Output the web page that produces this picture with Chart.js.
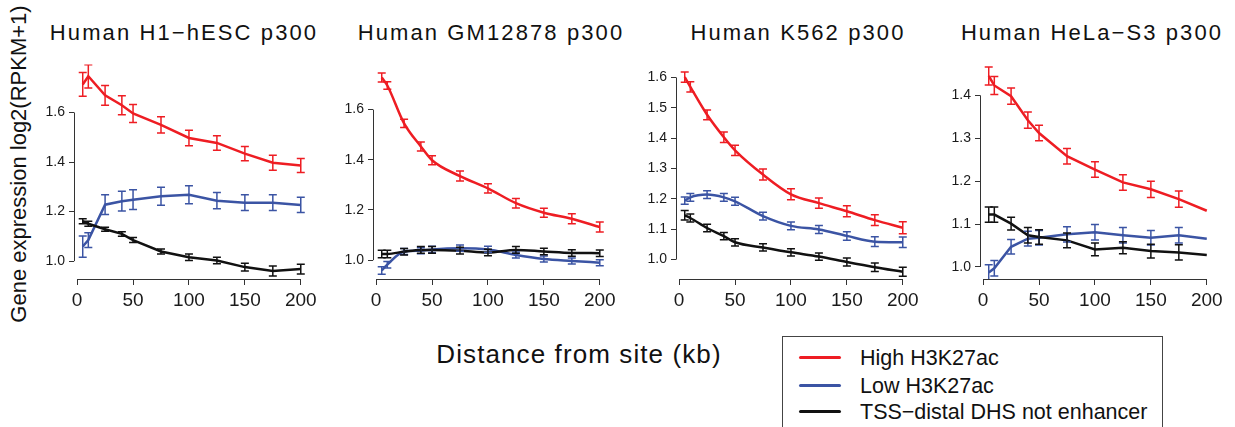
<!DOCTYPE html>
<html>
<head>
<meta charset="utf-8">
<script src="https://cdn.jsdelivr.net/npm/chart.js@4.4.1/dist/chart.umd.min.js"></script>
<style>
    body {
        margin: 0;
        width: 1235px;
        height: 427px;
        position: relative;
        overflow: hidden;
        background: #fff;
        font-family: "Liberation Sans", Arial, sans-serif;
        color: #111;
    }
    .panel {
        position: absolute;
        top: 52px;
    }
    .title {
        position: absolute;
        top: 22px;
        width: 320px;
        text-align: center;
        font-size: 22px;
        line-height: 22px;
        letter-spacing: 2.1px;
        white-space: nowrap;
    }
    .ylabel {
        position: absolute;
        left: 19px;
        top: 164px;
        width: 400px;
        height: 22px;
        line-height: 22px;
        font-size: 22px;
        text-align: center;
        white-space: nowrap;
        transform: translate(-50%, -50%) rotate(-90deg);
    }
    .xlabel {
        position: absolute;
        left: 379px;
        top: 341px;
        width: 400px;
        text-align: center;
        font-size: 26px;
        line-height: 26px;
        letter-spacing: 1.1px;
        white-space: nowrap;
    }
    .legend {
        position: absolute;
        left: 782px;
        top: 336px;
        width: 379px;
        height: 120px;
        border: 1px solid #444;
    }
    .legend__row {
        position: absolute;
        left: 0;
        height: 22px;
        width: 100%;
    }
    .legend__line {
        position: absolute;
        left: 16px;
        top: 8px;
        width: 42px;
        height: 3px;
        border-radius: 2px;
    }
    .legend__text {
        position: absolute;
        left: 77px;
        top: 0;
        font-size: 21.5px;
        line-height: 21.5px;
        white-space: nowrap;
    }
</style>
</head>
<body>

<div class="title" style="left: 24px;">Human H1−hESC p300</div>
<div class="title" style="left: 331px;">Human GM12878 p300</div>
<div class="title" style="left: 638px;">Human K562 p300</div>
<div class="title" style="left: 932px;">Human HeLa−S3 p300</div>

<div class="ylabel">Gene expression log2(RPKM+1)</div>

<div class="panel" style="left: 14px;"><canvas id="h1" width="307" height="267"></canvas></div>
<div class="panel" style="left: 313px;"><canvas id="gm" width="307" height="267"></canvas></div>
<div class="panel" style="left: 616px;"><canvas id="k562" width="307" height="267"></canvas></div>
<div class="panel" style="left: 920px;"><canvas id="hela" width="307" height="267"></canvas></div>

<div class="xlabel">Distance from site (kb)</div>

<div class="legend">
    <div class="legend__row" style="top: 11px;"><div class="legend__line" style="background: #ee1d23;"></div><div class="legend__text">High H3K27ac</div></div>
    <div class="legend__row" style="top: 39px;"><div class="legend__line" style="background: #3b54a4;"></div><div class="legend__text">Low H3K27ac</div></div>
    <div class="legend__row" style="top: 65px;"><div class="legend__line" style="background: #111;"></div><div class="legend__text">TSS−distal DHS not enhancer</div></div>
</div>

<script>
// Distances (kb) and axis ticks

var distances = [5, 10, 25, 40, 50, 75, 100, 125, 150, 175, 200];
var xTicks = [0, 50, 100, 150, 200];

// H1-hESC
var h1High = [1.713, 1.746, 1.669, 1.629, 1.596, 1.550, 1.497, 1.477, 1.434, 1.397, 1.386];
var h1HighErr = [0.048, 0.047, 0.040, 0.038, 0.036, 0.033, 0.031, 0.029, 0.029, 0.030, 0.028];
var h1Low = [1.059, 1.085, 1.228, 1.242, 1.248, 1.262, 1.268, 1.244, 1.236, 1.236, 1.227];
var h1LowErr = [0.043, 0.030, 0.040, 0.040, 0.040, 0.036, 0.036, 0.033, 0.032, 0.032, 0.031];
var h1Dhs = [1.161, 1.151, 1.129, 1.110, 1.085, 1.039, 1.016, 1.003, 0.976, 0.960, 0.968];
var h1DhsErr = [0.010, 0.010, 0.008, 0.009, 0.010, 0.010, 0.013, 0.013, 0.016, 0.020, 0.020];
var h1Ticks = [1.0, 1.2, 1.4, 1.6];

// GM12878
var gmHigh = [1.728, 1.696, 1.545, 1.453, 1.398, 1.335, 1.286, 1.227, 1.189, 1.165, 1.132];
var gmHighErr = [0.018, 0.015, 0.016, 0.018, 0.018, 0.020, 0.018, 0.019, 0.018, 0.020, 0.020];
var gmLow = [0.959, 0.982, 1.035, 1.038, 1.043, 1.048, 1.043, 1.021, 1.005, 0.997, 0.990];
var gmLowErr = [0.015, 0.013, 0.012, 0.012, 0.012, 0.012, 0.012, 0.012, 0.012, 0.012, 0.012];
var gmDhs = [1.025, 1.025, 1.034, 1.041, 1.041, 1.038, 1.031, 1.041, 1.035, 1.029, 1.028];
var gmDhsErr = [0.015, 0.015, 0.013, 0.013, 0.013, 0.013, 0.013, 0.013, 0.013, 0.013, 0.013];
var gmTicks = [1.0, 1.2, 1.4, 1.6];

// K562
var k562High = [1.601, 1.569, 1.477, 1.403, 1.360, 1.280, 1.215, 1.186, 1.159, 1.130, 1.105];
var k562HighErr = [0.017, 0.017, 0.016, 0.017, 0.017, 0.018, 0.018, 0.017, 0.018, 0.018, 0.020];
var k562Low = [1.194, 1.205, 1.214, 1.205, 1.192, 1.143, 1.111, 1.099, 1.078, 1.059, 1.057];
var k562LowErr = [0.012, 0.013, 0.013, 0.013, 0.013, 0.013, 0.013, 0.013, 0.014, 0.016, 0.017];
var k562Dhs = [1.146, 1.137, 1.104, 1.077, 1.057, 1.040, 1.024, 1.010, 0.992, 0.975, 0.960];
var k562DhsErr = [0.016, 0.013, 0.012, 0.012, 0.012, 0.012, 0.012, 0.012, 0.013, 0.014, 0.015];
var k562Ticks = [1.0, 1.1, 1.2, 1.3, 1.4, 1.5, 1.6];

// HeLa-S3
var helaHigh = [1.445, 1.423, 1.398, 1.342, 1.312, 1.258, 1.227, 1.197, 1.181, 1.158, 1.131];
var helaHighErr = [0.021, 0.021, 0.019, 0.019, 0.018, 0.018, 0.018, 0.018, 0.019, 0.019, null];
var helaLow = [0.987, 0.997, 1.047, 1.066, 1.068, 1.076, 1.081, 1.074, 1.068, 1.074, 1.066];
var helaLowErr = [0.018, 0.018, 0.017, 0.017, 0.017, 0.018, 0.018, 0.018, 0.017, 0.018, null];
var helaDhs = [1.122, 1.122, 1.101, 1.074, 1.070, 1.062, 1.041, 1.045, 1.037, 1.034, 1.028];
var helaDhsErr = [0.018, 0.018, 0.015, 0.018, 0.017, 0.017, 0.015, 0.014, 0.016, 0.018, null];
var helaTicks = [1.0, 1.1, 1.2, 1.3, 1.4];

var red = "#ee1d23";
var blue = "#3b54a4";
var black = "#111111";
var fontFamily = "'Liberation Sans', Arial, sans-serif";

//Axis lines only between first and last tick (like R)

var axisLines = {
    id: "axisLines",
    beforeDatasetsDraw: function(chart) {
        var ctx = chart.ctx;
        var xs = chart.scales.x;
        var ys = chart.scales.y;
        var area = chart.chartArea;
        var yt = ys.ticks;
        ctx.save();
        ctx.strokeStyle = "#333";
        ctx.lineWidth = 1;
        ctx.beginPath();
        ctx.moveTo(xs.getPixelForValue(xTicks[0]), area.bottom + 0.5);
        ctx.lineTo(xs.getPixelForValue(xTicks[xTicks.length - 1]), area.bottom + 0.5);
        ctx.moveTo(area.left + 0.5, ys.getPixelForValue(yt[0].value));
        ctx.lineTo(area.left + 0.5, ys.getPixelForValue(yt[yt.length - 1].value));
        ctx.stroke();
        ctx.restore();
    }
};

//Error bars

var errorBars = {
    id: "errorBars",
    afterDatasetsDraw: function(chart) {
        var ctx = chart.ctx;
        var area = chart.chartArea;
        var xs = chart.scales.x;
        var ys = chart.scales.y;
        ctx.save();
        ctx.beginPath();
        ctx.rect(area.left, area.top, area.right - area.left, area.bottom - area.top);
        ctx.clip();
        ctx.lineWidth = 1.5;
        for (var d = chart.data.datasets.length - 1; d >= 0; d--) {
            var ds = chart.data.datasets[d];
            ctx.strokeStyle = ds.borderColor;
            ds.errors.forEach(function(e, i) {
                if (e == null) return;
                var pt = ds.data[i];
                var px = xs.getPixelForValue(pt.x);
                var top = ys.getPixelForValue(pt.y + e);
                var bot = ys.getPixelForValue(pt.y - e);
                ctx.beginPath();
                ctx.moveTo(px, top);
                ctx.lineTo(px, bot);
                ctx.moveTo(px - 4, top);
                ctx.lineTo(px + 4, top);
                ctx.moveTo(px - 4, bot);
                ctx.lineTo(px + 4, bot);
                ctx.stroke();
            });
        }
        ctx.restore();
    }
};

function toPoints(values) {
    return values.map(function(v, i) {
        return { x: distances[i], y: v };
    });
}

function makeSeries(values, errors, color, smooth) {
    return {
        data: toPoints(values),
        errors: errors,
        borderColor: color,
        borderWidth: 2.5,
        pointRadius: 0,
        fill: false,
        tension: 0,
        cubicInterpolationMode: smooth ? "monotone" : "default"
    };
}

function makePanel(id, high, highErr, low, lowErr, dhs, dhsErr, yMin, yMax, yTicks, smooth) {
    return new Chart(document.getElementById(id), {
        type: "line",
        data: {
            // first dataset is drawn on top
            datasets: [
                makeSeries(dhs, dhsErr, black, smooth),
                makeSeries(low, lowErr, blue, smooth),
                makeSeries(high, highErr, red, smooth)
            ]
        },
        options: {
            responsive: false,
            animation: false,
            layout: { padding: { top: 10, right: 10, left: 0, bottom: 0 } },
            plugins: {
                legend: { display: false },
                tooltip: { enabled: false },
                title: { display: false }
            },
            scales: {
                x: {
                    type: "linear",
                    bounds: "data",
                    min: -2.8,
                    max: 207.8,
                    afterBuildTicks: function(s) {
                        s.ticks = xTicks.map(function(v) { return { value: v }; });
                    },
                    afterFit: function(s) { s.height = 40; },
                    border: { display: false },
                    grid: { drawOnChartArea: false, drawTicks: true, tickLength: 6, color: "#333", lineWidth: 1 },
                    ticks: {
                        autoSkip: false,
                        maxRotation: 0,
                        padding: 4,
                        color: "#1a1a1a",
                        font: { family: fontFamily, size: 19 },
                        callback: function(v) { return v; }
                    }
                },
                y: {
                    type: "linear",
                    bounds: "data",
                    min: yMin,
                    max: yMax,
                    afterBuildTicks: function(s) {
                        s.ticks = yTicks.map(function(v) { return { value: v }; });
                    },
                    afterFit: function(s) { s.width = 60; },
                    border: { display: false },
                    grid: { drawOnChartArea: false, drawTicks: true, tickLength: 5, color: "#333", lineWidth: 1 },
                    ticks: {
                        autoSkip: false,
                        padding: 4,
                        color: "#1a1a1a",
                        font: { family: fontFamily, size: 14 },
                        callback: function(v) { return v.toFixed(1); }
                    }
                }
            }
        },
        plugins: [axisLines, errorBars]
    });
}

var chartH1 = makePanel("h1", h1High, h1HighErr, h1Low, h1LowErr, h1Dhs, h1DhsErr, 0.928, 1.794, h1Ticks, false);
var chartGm = makePanel("gm", gmHigh, gmHighErr, gmLow, gmLowErr, gmDhs, gmDhsErr, 0.925, 1.780, gmTicks, true);
var chartK562 = makePanel("k562", k562High, k562HighErr, k562Low, k562LowErr, k562Dhs, k562DhsErr, 0.936, 1.643, k562Ticks, true);
var chartHela = makePanel("hela", helaHigh, helaHighErr, helaLow, helaLowErr, helaDhs, helaDhsErr, 0.972, 1.472, helaTicks, false);
</script>
</body>
</html>
